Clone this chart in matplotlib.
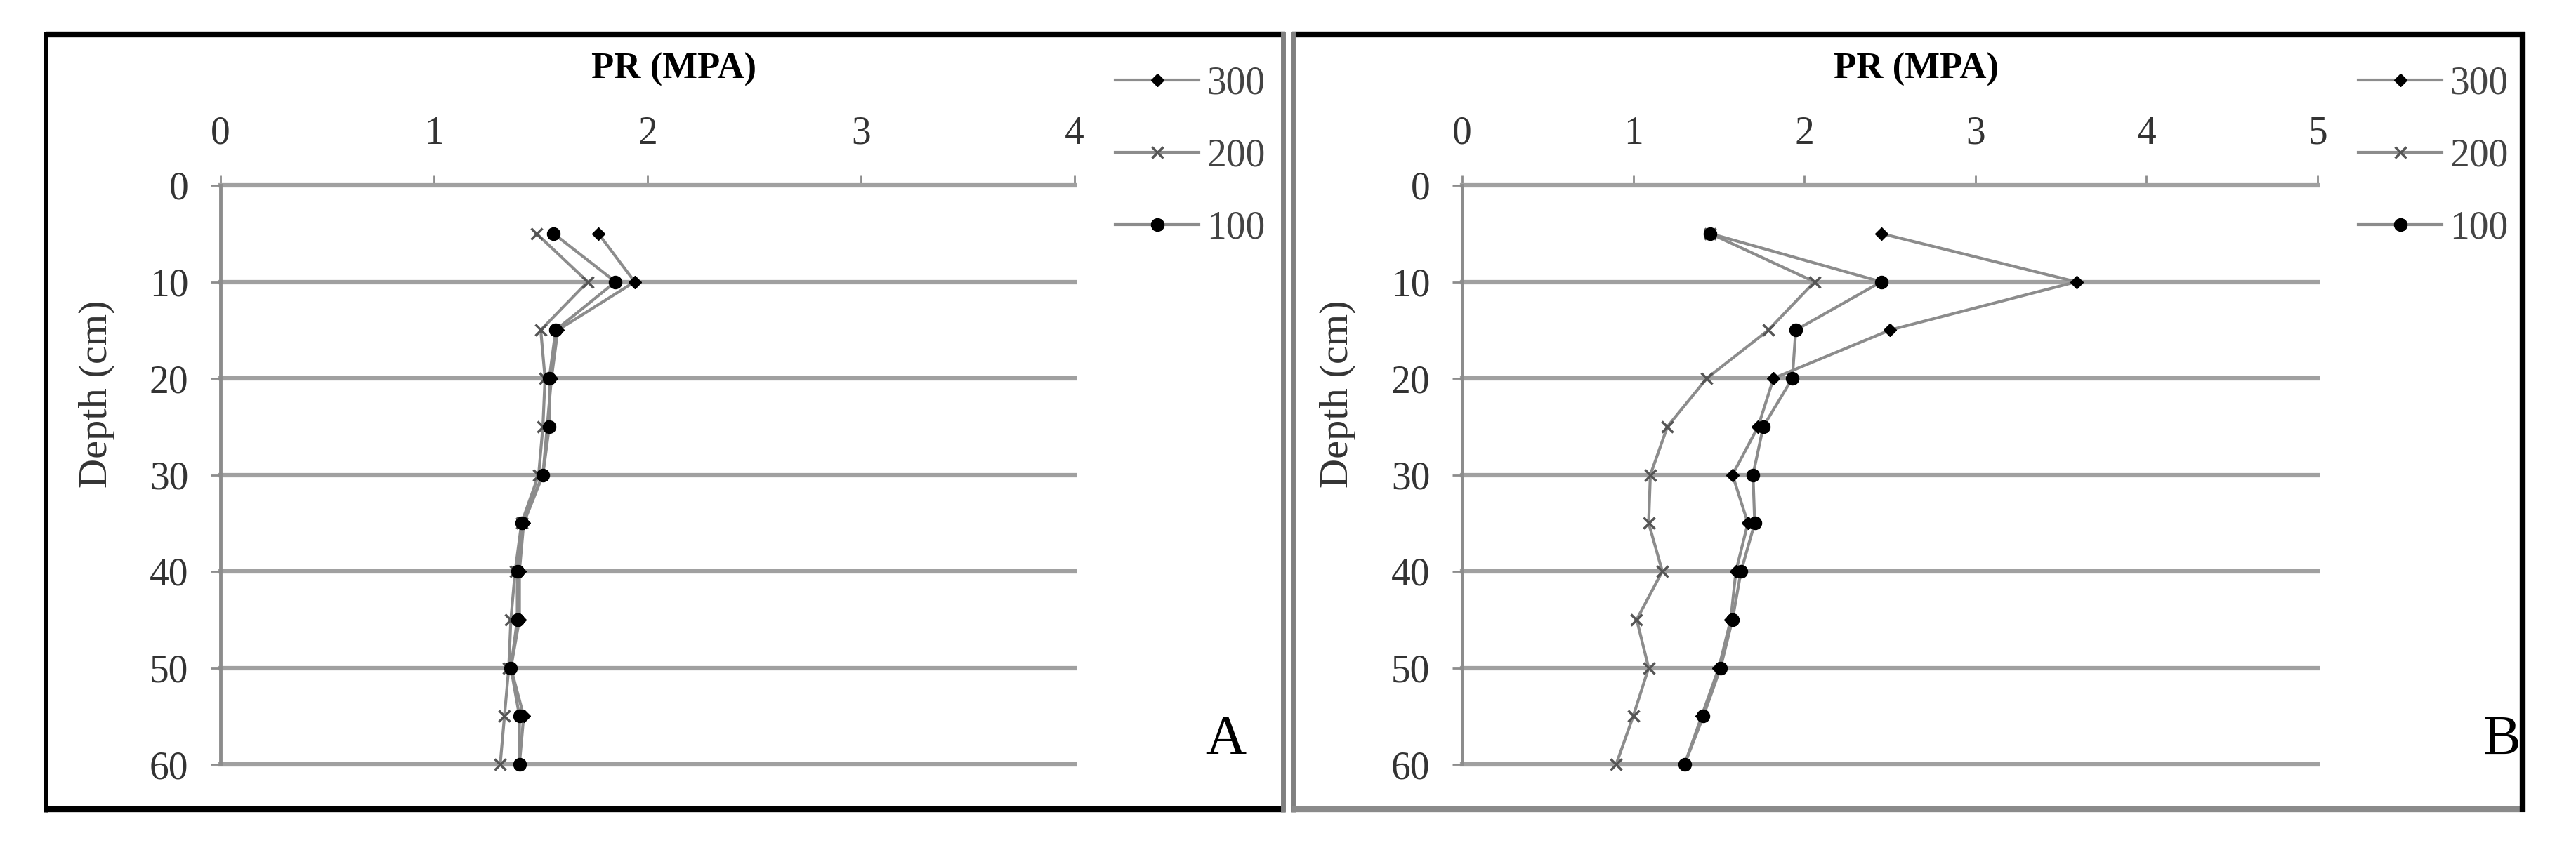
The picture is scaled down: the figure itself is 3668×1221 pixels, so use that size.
import matplotlib.pyplot as plt
from matplotlib.lines import Line2D

plt.rcParams['font.family'] = ['Liberation Serif', 'DejaVu Serif']

# depth of each reading (cm)
depth = [5, 10, 15, 20, 25, 30, 35, 40, 45, 50, 55, 60]

# panel A - penetration resistance (MPa)
a_300 = [1.77, 1.94, 1.58, 1.55, 1.53, 1.51, 1.42, 1.40, 1.40, 1.36, 1.42, 1.40]
a_200 = [1.48, 1.72, 1.50, 1.52, 1.51, 1.49, 1.41, 1.38, 1.36, 1.35, 1.33, 1.31]
a_100 = [1.56, 1.85, 1.57, 1.54, 1.54, 1.51, 1.41, 1.39, 1.39, 1.36, 1.40, 1.40]

# panel B
b_300 = [2.45, 3.59, 2.50, 1.82, 1.73, 1.58, 1.67, 1.60, 1.57, 1.50, 1.40, 1.30]
b_200 = [1.45, 2.06, 1.79, 1.43, 1.20, 1.10, 1.09, 1.17, 1.02, 1.09, 1.00, 0.90]
b_100 = [1.45, 2.45, 1.95, 1.93, 1.76, 1.70, 1.71, 1.63, 1.58, 1.51, 1.41, 1.30]

labels = ['300', '200', '100']
xticks_a = [0, 1, 2, 3, 4]
xticks_b = [0, 1, 2, 3, 4, 5]
yticks = [0, 10, 20, 30, 40, 50, 60]

W, H = 3668, 1221
fig = plt.figure(figsize=(W / 100, H / 100), dpi=100)


def fx(px):
    return px / W


def fy(py):
    return 1 - py / H


line_c = '#8c8c8c'
grid_c = '#a0a0a0'
fs = 40


def panel(left_px, right_px, series, xticks, letter, letter_x, title_x):
    ax = fig.add_axes([fx(left_px), fy(1089), fx(right_px - left_px), (1089 - 264) / H])
    ax.set_xlim(xticks[0], xticks[-1])
    ax.set_ylim(60, 0)
    ax.xaxis.tick_top()
    ax.set_xticks(xticks)
    ax.set_yticks(yticks)
    ax.tick_params(axis='x', direction='out', length=10, width=2, color=line_c,
                   pad=24, labelsize=fs, labelcolor='#333333')
    ax.tick_params(axis='y', direction='out', length=10, width=2, color=line_c,
                   pad=23, labelsize=fs, labelcolor='#333333')
    for s in ['top', 'right', 'bottom']:
        ax.spines[s].set_visible(False)
    ax.spines['left'].set_color(line_c)
    ax.spines['left'].set_linewidth(3.5)
    ax.grid(axis='y', color=grid_c, linewidth=4.5)
    for gl in ax.get_ygridlines():
        gl.set_clip_on(False)
    ax.set_axisbelow(True)

    s300, s200, s100 = series
    ax.plot(s300, depth, color=line_c, lw=3, marker='D', ms=9, mfc='black',
            mec='black', label=labels[0], clip_on=False)
    ax.plot(s200, depth, color=line_c, lw=3, marker='x', ms=11, mew=2.5,
            mec='#555555', label=labels[1], clip_on=False)
    ax.plot(s100, depth, color=line_c, lw=3, marker='o', ms=13, mfc='black',
            mec='black', label=labels[2], clip_on=False)

    fig.text(fx(title_x), fy(99), 'PR (MPA)', fontsize=38, fontweight='bold',
             ha='center', va='center')
    ax.text(-0.145, 0.64, 'Depth (cm)', transform=ax.transAxes, rotation=90,
            fontsize=42, ha='center', va='center', color='#333333')

    leg = ax.legend(loc='upper left', bbox_to_anchor=(fx(right_px + 58), fy(93)),
                    bbox_transform=fig.transFigure, frameon=False, fontsize=fs,
                    handlelength=2.15, handletextpad=0.2, labelspacing=0.92,
                    borderpad=0, borderaxespad=0)
    for t in leg.get_texts():
        t.set_color('#444444')

    fig.text(fx(letter_x), fy(1055), letter, fontsize=58, ha='center', va='center')
    return ax


panel(314, 1530, (a_300, a_200, a_100), xticks_a, 'A', 1745, 960)
panel(2082, 3300, (b_300, b_200, b_100), xticks_b, 'B', 3562, 2729)


# panel frames
def seg(x0, y0, x1, y1, c, lw):
    fig.add_artist(Line2D([fx(x0), fx(x1)], [fy(y0), fy(y1)], color=c, lw=lw,
                          solid_capstyle='butt'))


# frame A
seg(65, 49, 1830, 49, 'black', 6)
seg(65, 45, 65, 1157, 'black', 5)
seg(65, 1153, 1830, 1153, 'black', 6)
seg(1827, 45, 1827, 1157, '#808080', 5)
# frame B
seg(1840, 49, 3595, 49, 'black', 6)
seg(1841, 45, 1841, 1157, '#808080', 5)
seg(1840, 1153, 3595, 1153, '#8a8a8a', 6)
seg(3592, 45, 3592, 1157, 'black', 6)

fig.savefig('out.png', dpi=100)
